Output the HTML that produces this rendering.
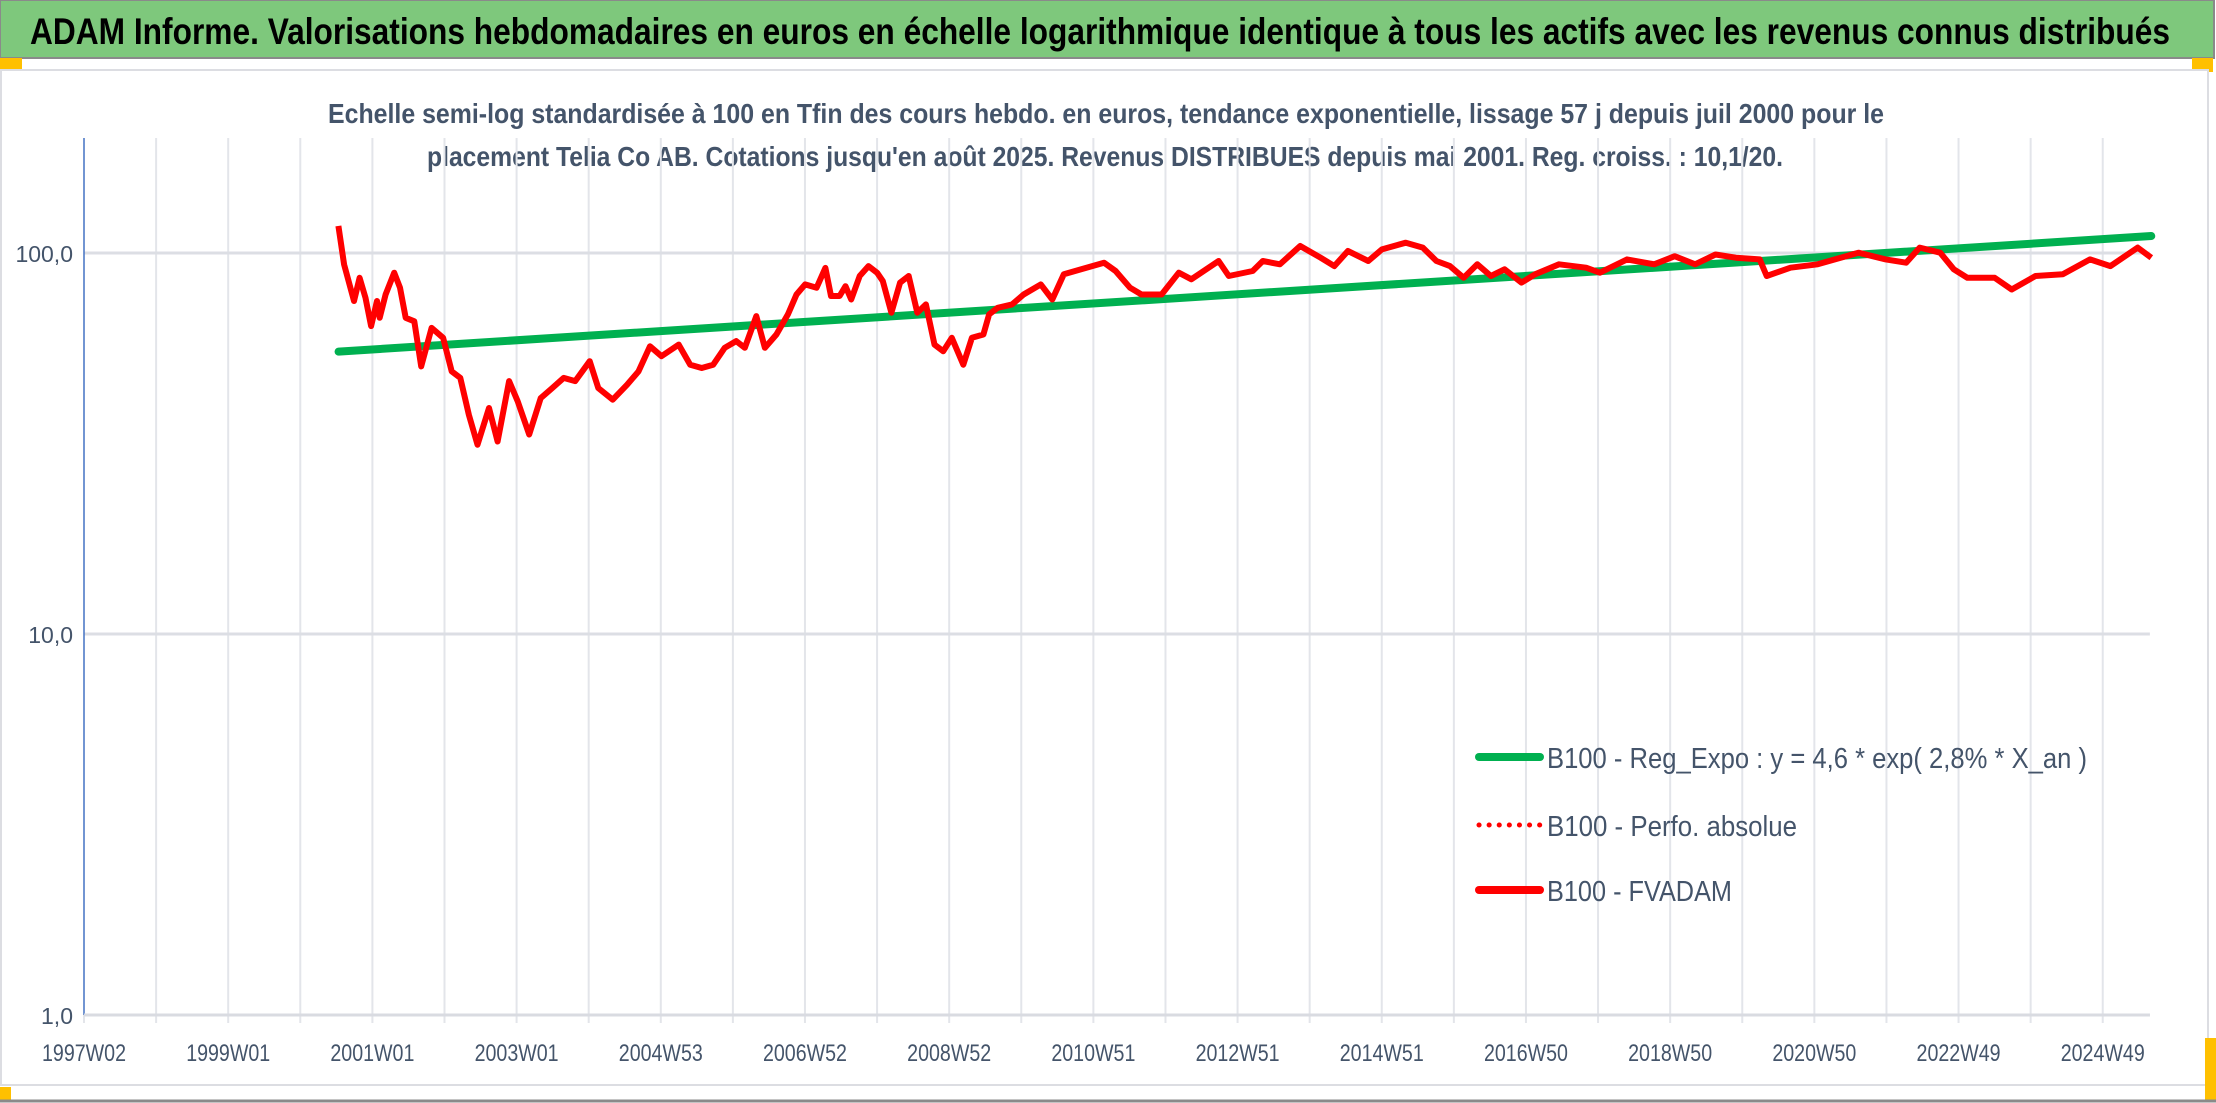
<!DOCTYPE html>
<html><head><meta charset="utf-8">
<style>
html,body{margin:0;padding:0;background:#fff;}
body{width:2216px;height:1103px;overflow:hidden;position:relative;}
svg{position:absolute;left:0;top:0;}
</style></head>
<body>
<svg id="chart" width="2216" height="1103" viewBox="0 0 2216 1103" xmlns="http://www.w3.org/2000/svg">
  <rect x="0" y="0" width="2216" height="1103" fill="#ffffff"/>
  <rect x="0" y="0" width="2214" height="58" fill="#7ec87c" stroke="#8a8a8a" stroke-width="2"/>
  <text x="30" y="44" font-family="Liberation Sans, sans-serif" font-weight="bold" font-size="37" fill="#000" textLength="2140" lengthAdjust="spacingAndGlyphs">ADAM Informe. Valorisations hebdomadaires en euros en échelle logarithmique identique à tous les actifs avec les revenus connus distribués</text>
  <rect x="0" y="58" width="22" height="12" fill="#ffc000"/>
  <rect x="2192" y="58" width="21" height="14" fill="#ffc000"/>
  <rect x="1" y="70" width="2207" height="1015" fill="#fff" stroke="#dcdde2" stroke-width="2"/>
  <rect x="0" y="1087" width="11" height="14" fill="#ffc000"/>
  <rect x="2205" y="1038" width="11" height="62" fill="#ffc000"/>
  <line x1="0" y1="1101" x2="2216" y2="1101" stroke="#8a8a8a" stroke-width="3"/>
  <text x="328" y="123" font-family="Liberation Sans, sans-serif" font-weight="bold" font-size="28" fill="#44546a" textLength="1556" lengthAdjust="spacingAndGlyphs">Echelle semi-log standardisée à 100 en Tfin des cours hebdo. en euros, tendance exponentielle, lissage 57 j depuis juil 2000 pour le</text>
  <text x="427" y="166" font-family="Liberation Sans, sans-serif" font-weight="bold" font-size="28" fill="#44546a" textLength="1356" lengthAdjust="spacingAndGlyphs">placement Telia Co AB. Cotations jusqu'en août 2025. Revenus DISTRIBUES depuis mai 2001. Reg. croiss. : 10,1/20.</text>
  <g id="grid"></g>
  <g id="axes"></g>
  <g id="series"></g>
  <g id="legend">
    <line x1="1479" y1="757" x2="1540" y2="757" stroke="#00b050" stroke-width="8" stroke-linecap="round"/>
    <text x="1547" y="768" font-family="Liberation Sans, sans-serif" font-size="29" fill="#44546a" textLength="540" lengthAdjust="spacingAndGlyphs">B100 - Reg_Expo : y = 4,6 * exp( 2,8% *  X_an )</text>
    <line x1="1479" y1="825" x2="1540" y2="825" stroke="#ff0000" stroke-width="5" stroke-dasharray="0.1 10" stroke-linecap="round"/>
    <text x="1547" y="836" font-family="Liberation Sans, sans-serif" font-size="29" fill="#44546a" textLength="250" lengthAdjust="spacingAndGlyphs">B100 - Perfo. absolue</text>
    <line x1="1479" y1="890" x2="1540" y2="890" stroke="#ff0000" stroke-width="8" stroke-linecap="round"/>
    <text x="1547" y="901" font-family="Liberation Sans, sans-serif" font-size="29" fill="#44546a" textLength="185" lengthAdjust="spacingAndGlyphs">B100 - FVADAM</text>
  </g>
</svg>
<script>
// ---- data ----
const xTickLabels = ["1997W02","1999W01","2001W01","2003W01","2004W53","2006W52","2008W52","2010W51","2012W51","2014W51","2016W50","2018W50","2020W50","2022W49","2024W49"];
const yTickValues = [1, 10, 100];
const yTickLabels = ["1,0","10,0","100,0"];
// weeks since 1997W02
const fvWeeks = [183.5,187.6,194.7,198.8,203,207.1,211.3,213.3,217.5,223.7,227.9,232,238.2,243.2,250.7,259,265.2,271.4,277.6,283.8,292.1,298.3,306.6,312.8,321.1,329.4,337.7,346,354.3,364.7,370.9,381.3,391.6,399.9,408.2,416.5,428.9,437.2,445.5,453.8,462.1,470.4,476.6,484.9,491.1,499.4,507.7,513.9,520.1,528.4,534.7,538.8,545,549.2,553.3,559.5,565.8,572,576.1,582.3,588.6,594.8,601,607.2,613.4,619.7,625.9,634.2,640.4,648.7,652.8,659,669.4,677.7,690.1,698.4,706.7,719.2,735.7,744,754.4,762.7,777.2,789.6,798.7,818.3,825.7,842.9,850.2,862.5,877.2,891.9,901.8,911.6,926.3,936.1,953.3,965.6,975.4,985.2,995.1,1004.9,1014.7,1024.5,1036.8,1046.6,1063.8,1083.4,1093.3,1112.9,1132.5,1147.3,1162,1176.7,1191.5,1208.6,1213.6,1230.8,1250.4,1279.8,1299.5,1314.2,1324,1338.8,1348.6,1358.4,1378.1,1390.3,1407.5,1427.2,1446.8,1461.5,1481.2,1491];
const fvValues = [117.8,93.3,74.8,86.1,76.3,64.3,74.8,67.6,77.8,88.8,81.1,67.6,66.2,50.4,63.6,59.9,48.9,47.0,37.6,31.4,39.2,32.0,46.1,40.8,33.4,41.6,44.2,47.0,46.1,52.0,44.2,41.2,45.1,48.9,56.9,53.6,57.5,50.9,49.9,50.9,56.4,58.7,56.4,68.3,56.4,61.1,69.0,77.8,82.7,81.1,91.4,77.1,77.1,81.8,75.5,87.0,92.4,88.8,84.4,69.7,83.6,87.0,69.7,73.3,57.5,55.2,59.9,50.9,59.9,61.1,69.0,71.8,73.3,77.8,82.7,75.5,87.9,90.6,94.3,89.7,81.1,77.8,77.8,88.8,85.3,95.3,87.0,89.7,95.3,93.4,104.3,97.2,92.4,101.2,95.3,102.2,106.4,103.3,95.3,92.4,86.1,93.4,87.0,90.6,83.6,87.9,93.4,91.5,88.8,96.2,93.4,98.1,93.4,99.1,97.2,96.2,87.0,91.5,93.4,100.2,96.2,94.3,103.3,100.2,90.6,86.1,86.1,80.2,87.0,87.9,96.2,92.4,103.3,97.2];
const trendWeeks = [183.6, 1491];
const trendValues = [55.1, 110.8];

// ---- scales ----
const X0 = 84, PXW = 1.3865, XMAXW = 1490;
const YTOP = 138, Y100 = 253, DEC = 381;
function xs(w){ return X0 + w*PXW; }
function ys(v){ return Y100 - (Math.log10(v)-2)*DEC; }
const NS = "http://www.w3.org/2000/svg";
function mk(tag, attrs, parent){ const e=document.createElementNS(NS,tag); for(const k in attrs) e.setAttribute(k,attrs[k]); parent.appendChild(e); return e; }

const grid = document.getElementById('grid');
const axes = document.getElementById('axes');
const series = document.getElementById('series');
const plotRight = xs(XMAXW);
const plotBottom = ys(1);

for(let k=1; k*52<=XMAXW; k++){
  const x = xs(k*52);
  const g = mk('line',{x1:x,y1:YTOP,x2:x,y2:plotBottom+8,stroke:'#e3e5ea','stroke-width':2},grid);
  
  
}
yTickValues.forEach((v,i)=>{
  const y = ys(v);
  const g = mk('line',{x1:X0,y1:y,x2:plotRight,y2:y,stroke:'#dcdee4','stroke-width':3},grid);
  
  
  const t = mk('text',{x:73,y:y+9,'text-anchor':'end','font-family':'Liberation Sans, sans-serif','font-size':23,fill:'#44546a'},axes);
  t.textContent = yTickLabels[i];
  
  
});
const ya = mk('line',{x1:X0,y1:YTOP,x2:X0,y2:plotBottom,stroke:'#4472c4','stroke-width':1.5},axes);


xTickLabels.forEach((lab,i)=>{
  const x = xs(i*104);
  const t = mk('text',{x:x,y:1061,'text-anchor':'middle','font-family':'Liberation Sans, sans-serif','font-size':24,fill:'#44546a',textLength:84,lengthAdjust:'spacingAndGlyphs'},axes);
  t.textContent = lab;
  
  
});
const tk = mk('line',{x1:X0,y1:plotBottom+8,x2:X0,y2:plotBottom,stroke:'#e3e5ea','stroke-width':2},axes);



const tr = mk('path',{d:'M'+xs(trendWeeks[0])+','+ys(trendValues[0])+' L'+xs(trendWeeks[1])+','+ys(trendValues[1]),stroke:'#00b050','stroke-width':8,fill:'none','stroke-linecap':'round'},series);


let d='';
fvWeeks.forEach((w,i)=>{ d += (i?'L':'M') + xs(w).toFixed(1) + ',' + ys(fvValues[i]).toFixed(1) + ' '; });
const fl = mk('path',{d:d,stroke:'#ff0000','stroke-width':6,fill:'none','stroke-linejoin':'round'},series);



const xa = mk('line',{x1:X0,y1:plotBottom,x2:plotRight,y2:plotBottom,stroke:'#d9dbe1','stroke-width':3},axes);


</script>
</body></html>
